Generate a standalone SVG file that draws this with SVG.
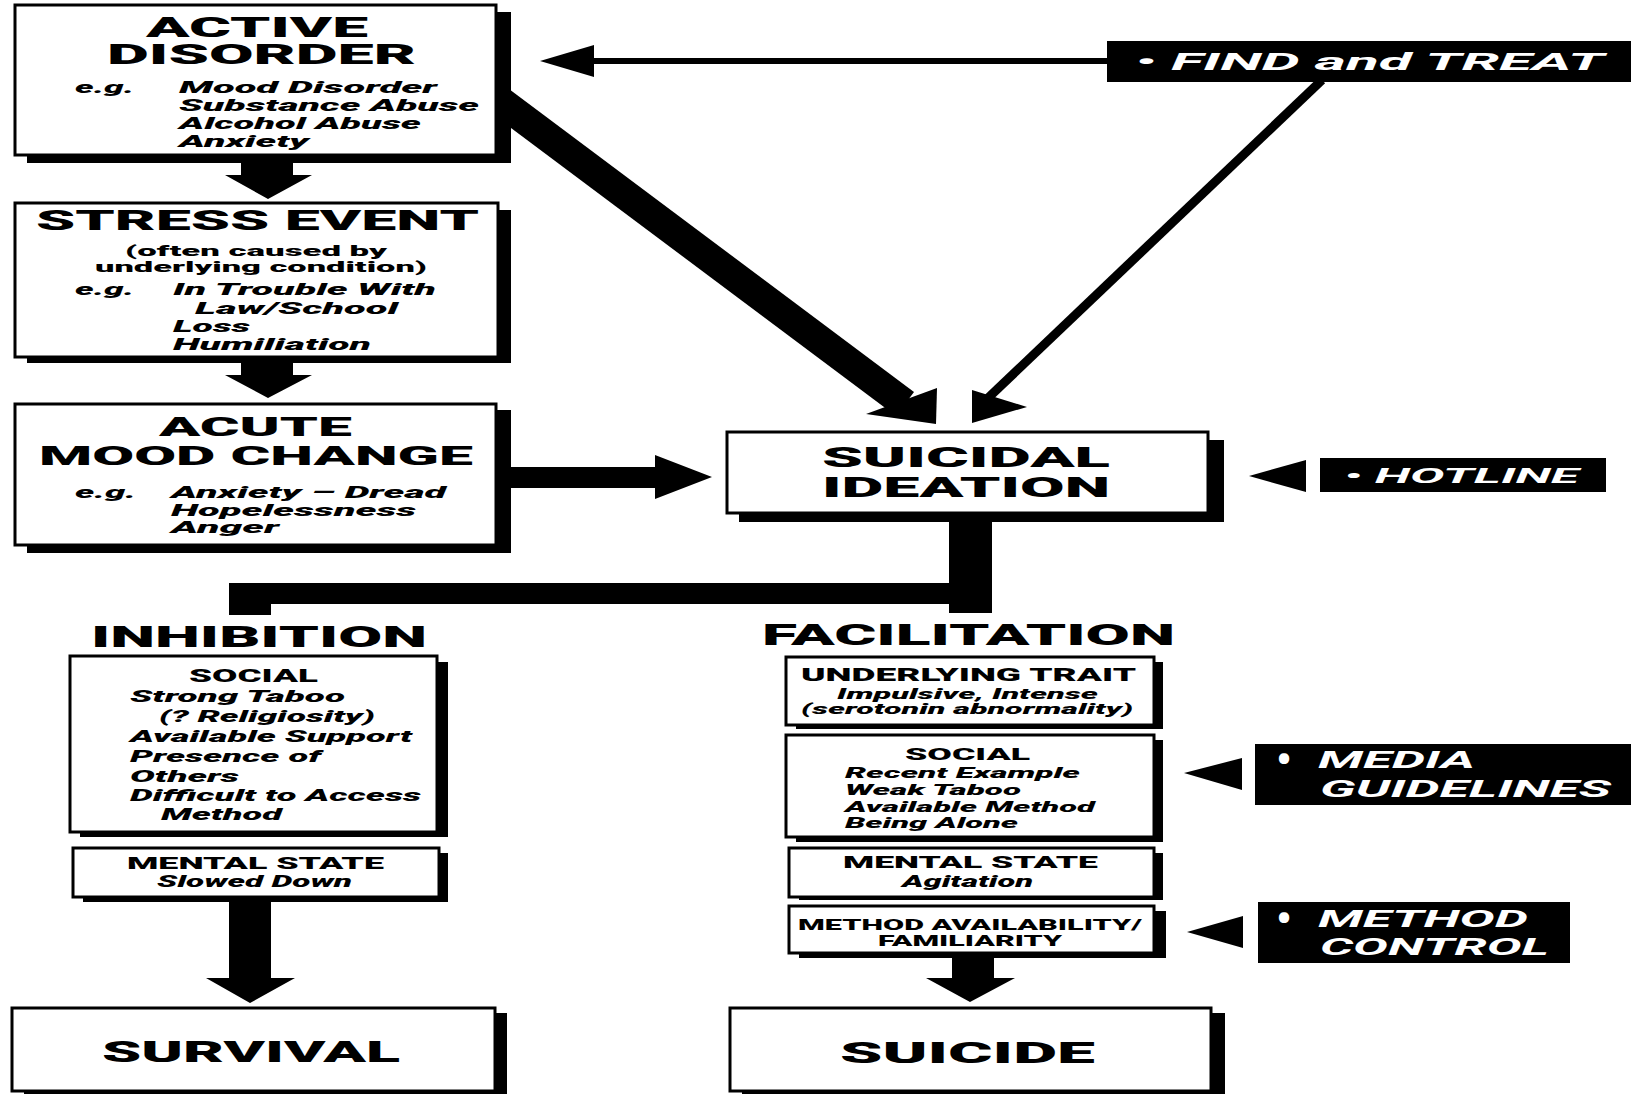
<svg xmlns="http://www.w3.org/2000/svg" width="1631" height="1094" viewBox="0 0 1631 1094">
<style>
.box{fill:#fff;stroke:#000;stroke-width:3}
.sh{fill:#000}
.blk{fill:#000}
text{font-family:Roboto,'Liberation Sans',Arial,sans-serif;font-weight:900;fill:#000}
.i{font-style:italic}
.w{fill:#fff;font-style:italic;font-weight:700}
.dot{fill:#fff;font-weight:700}
</style>
<rect width="1631" height="1094" fill="#fff"/>
<g id="connectors">
  <polygon class="blk" points="241,160 293,160 293,175 312,175 268,199 225,175 241,175"/>
  <polygon class="blk" points="241,360 293,360 293,375 312,375 268,398 225,375 241,375"/>
  <polygon class="blk" points="511,467 655,467 655,455 712,477 655,499 655,488 511,488"/>
  <line x1="500" y1="101" x2="905" y2="404" stroke="#000" stroke-width="30"/>
  <polygon class="blk" points="866,414 937,388 936,424"/>
  <rect class="blk" x="590" y="58" width="520" height="6"/>
  <polygon class="blk" points="540,61 594,45 594,77"/>
  <line x1="1322" y1="80" x2="988" y2="398" stroke="#000" stroke-width="9"/>
  <polygon class="blk" points="972,390 1027,407 972,423"/>
  <polygon class="blk" points="1249,476 1306,460 1306,492"/>
  <rect class="blk" x="949" y="513" width="43" height="100"/>
  <rect class="blk" x="229" y="583" width="763" height="21"/>
  <rect class="blk" x="229" y="583" width="42" height="32"/>
  <polygon class="blk" points="229,902 271,902 271,978 295,978 250,1003 206,978 229,978"/>
  <polygon class="blk" points="952,956 994,956 994,978 1015,978 970,1002 926,978 952,978"/>
  <polygon class="blk" points="1184,773 1242,758 1242,790"/>
  <polygon class="blk" points="1187,932 1243,916 1243,948"/>
</g>

<g id="active-disorder">
  <rect class="sh" x="27" y="12" width="484" height="151"/>
  <rect class="box" x="15" y="5" width="481" height="150"/>
  <text x="146" y="37" font-size="28" textLength="222" lengthAdjust="spacingAndGlyphs">ACTIVE</text>
  <text x="107" y="64" font-size="28" textLength="309" lengthAdjust="spacingAndGlyphs">DISORDER</text>
  <text class="i" x="75" y="93" font-size="17" textLength="59" lengthAdjust="spacingAndGlyphs">e.g.</text>
  <text class="i" x="179" y="93" font-size="17" textLength="258" lengthAdjust="spacingAndGlyphs">Mood Disorder</text>
  <text class="i" x="179" y="111" font-size="17" textLength="300" lengthAdjust="spacingAndGlyphs">Substance Abuse</text>
  <text class="i" x="179" y="129" font-size="17" textLength="242" lengthAdjust="spacingAndGlyphs">Alcohol Abuse</text>
  <text class="i" x="179" y="147" font-size="17" textLength="130" lengthAdjust="spacingAndGlyphs">Anxiety</text>
</g>

<g id="stress-event">
  <rect class="sh" x="27" y="210" width="484" height="153"/>
  <rect class="box" x="15" y="203" width="483" height="154"/>
  <text x="36" y="230" font-size="27" textLength="443" lengthAdjust="spacingAndGlyphs">STRESS EVENT</text>
  <text x="125" y="256" font-size="15.5" textLength="262" lengthAdjust="spacingAndGlyphs">(often caused by</text>
  <text x="95" y="272" font-size="15.5" textLength="332" lengthAdjust="spacingAndGlyphs">underlying condition)</text>
  <text class="i" x="75" y="295" font-size="17" textLength="59" lengthAdjust="spacingAndGlyphs">e.g.</text>
  <text class="i" x="173" y="295" font-size="17" textLength="263" lengthAdjust="spacingAndGlyphs">In Trouble With</text>
  <text class="i" x="195" y="314" font-size="17" textLength="203" lengthAdjust="spacingAndGlyphs">Law/School</text>
  <text class="i" x="173" y="332" font-size="17" textLength="77" lengthAdjust="spacingAndGlyphs">Loss</text>
  <text class="i" x="173" y="350" font-size="17" textLength="198" lengthAdjust="spacingAndGlyphs">Humiliation</text>
</g>

<g id="acute-mood-change">
  <rect class="sh" x="27" y="410" width="484" height="143"/>
  <rect class="box" x="15" y="404" width="481" height="141"/>
  <text x="159" y="436" font-size="25.5" textLength="193" lengthAdjust="spacingAndGlyphs">ACUTE</text>
  <text x="39" y="465" font-size="25.5" textLength="434" lengthAdjust="spacingAndGlyphs">MOOD CHANGE</text>
  <text class="i" x="75" y="498" font-size="17" textLength="61" lengthAdjust="spacingAndGlyphs">e.g.</text>
  <text class="i" x="171" y="498" font-size="17" textLength="275" lengthAdjust="spacingAndGlyphs">Anxiety – Dread</text>
  <text class="i" x="171" y="516" font-size="17" textLength="245" lengthAdjust="spacingAndGlyphs">Hopelessness</text>
  <text class="i" x="171" y="533" font-size="17" textLength="108" lengthAdjust="spacingAndGlyphs">Anger</text>
</g>

<g id="find-and-treat">
  <rect class="blk" x="1107" y="41" width="524" height="41"/>
  <text class="w" x="1135" y="70" font-size="24" textLength="469" lengthAdjust="spacingAndGlyphs">• FIND and TREAT</text>
</g>

<g id="suicidal-ideation">
  <rect class="sh" x="739" y="440" width="485" height="82"/>
  <rect class="box" x="727" y="432" width="481" height="81"/>
  <text x="822" y="467" font-size="28" textLength="288" lengthAdjust="spacingAndGlyphs">SUICIDAL</text>
  <text x="822" y="497" font-size="28" textLength="288" lengthAdjust="spacingAndGlyphs">IDEATION</text>
</g>

<g id="hotline">
  <rect class="blk" x="1320" y="458" width="286" height="34"/>
  <text class="w" x="1344" y="483" font-size="21" textLength="235" lengthAdjust="spacingAndGlyphs">• HOTLINE</text>
</g>

<g id="inhibition">
  <text x="91" y="647" font-size="30" textLength="336" lengthAdjust="spacingAndGlyphs">INHIBITION</text>
</g>

<g id="inhibition-social">
  <rect class="sh" x="80" y="662" width="368" height="175"/>
  <rect class="box" x="70" y="656" width="367" height="176"/>
  <text x="189" y="682" font-size="19" textLength="129" lengthAdjust="spacingAndGlyphs">SOCIAL</text>
  <text class="i" x="130" y="702" font-size="17" textLength="215" lengthAdjust="spacingAndGlyphs">Strong Taboo</text>
  <text class="i" x="159" y="722" font-size="17" textLength="216" lengthAdjust="spacingAndGlyphs">(? Religiosity)</text>
  <text class="i" x="130" y="742" font-size="17" textLength="282" lengthAdjust="spacingAndGlyphs">Available Support</text>
  <text class="i" x="130" y="762" font-size="17" textLength="191" lengthAdjust="spacingAndGlyphs">Presence of</text>
  <text class="i" x="130" y="782" font-size="17" textLength="109" lengthAdjust="spacingAndGlyphs">Others</text>
  <text class="i" x="130" y="801" font-size="17" textLength="291" lengthAdjust="spacingAndGlyphs">Difficult to Access</text>
  <text class="i" x="161" y="820" font-size="17" textLength="121" lengthAdjust="spacingAndGlyphs">Method</text>
</g>

<g id="inhibition-mental-state">
  <rect class="sh" x="83" y="853" width="365" height="49"/>
  <rect class="box" x="73" y="848" width="366" height="49"/>
  <text x="127" y="869" font-size="17" textLength="257" lengthAdjust="spacingAndGlyphs">MENTAL STATE</text>
  <text class="i" x="157" y="887" font-size="16" textLength="195" lengthAdjust="spacingAndGlyphs">Slowed Down</text>
</g>

<g id="survival">
  <rect class="sh" x="24" y="1013" width="483" height="81"/>
  <rect class="box" x="12" y="1008" width="483" height="83"/>
  <text x="102" y="1062" font-size="30" textLength="298" lengthAdjust="spacingAndGlyphs">SURVIVAL</text>
</g>

<g id="facilitation">
  <text x="762" y="645" font-size="30" textLength="413" lengthAdjust="spacingAndGlyphs">FACILITATION</text>
</g>

<g id="underlying-trait">
  <rect class="sh" x="796" y="662" width="367" height="67"/>
  <rect class="box" x="786" y="657" width="368" height="68"/>
  <text x="801" y="681" font-size="18" textLength="335" lengthAdjust="spacingAndGlyphs">UNDERLYING TRAIT</text>
  <text class="i" x="837" y="699" font-size="15" textLength="261" lengthAdjust="spacingAndGlyphs">Impulsive, Intense</text>
  <text class="i" x="801" y="714" font-size="15" textLength="332" lengthAdjust="spacingAndGlyphs">(serotonin abnormality)</text>
</g>

<g id="facilitation-social">
  <rect class="sh" x="796" y="740" width="367" height="102"/>
  <rect class="box" x="786" y="735" width="368" height="102"/>
  <text x="905" y="760" font-size="17" textLength="125" lengthAdjust="spacingAndGlyphs">SOCIAL</text>
  <text class="i" x="845" y="778" font-size="15" textLength="235" lengthAdjust="spacingAndGlyphs">Recent Example</text>
  <text class="i" x="845" y="795" font-size="15" textLength="176" lengthAdjust="spacingAndGlyphs">Weak Taboo</text>
  <text class="i" x="845" y="812" font-size="15" textLength="250" lengthAdjust="spacingAndGlyphs">Available Method</text>
  <text class="i" x="845" y="828" font-size="15" textLength="173" lengthAdjust="spacingAndGlyphs">Being Alone</text>
</g>

<g id="facilitation-mental-state">
  <rect class="sh" x="799" y="853" width="364" height="47"/>
  <rect class="box" x="789" y="848" width="365" height="49"/>
  <text x="843" y="868" font-size="17" textLength="255" lengthAdjust="spacingAndGlyphs">MENTAL STATE</text>
  <text class="i" x="902" y="887" font-size="16" textLength="131" lengthAdjust="spacingAndGlyphs">Agitation</text>
</g>

<g id="method-availability">
  <rect class="sh" x="799" y="911" width="367" height="47"/>
  <rect class="box" x="789" y="906" width="365" height="47"/>
  <text x="798" y="930" font-size="14.5" textLength="344" lengthAdjust="spacingAndGlyphs">METHOD AVAILABILITY/</text>
  <text x="878" y="946" font-size="14.5" textLength="184" lengthAdjust="spacingAndGlyphs">FAMILIARITY</text>
</g>

<g id="suicide">
  <rect class="sh" x="742" y="1013" width="483" height="81"/>
  <rect class="box" x="730" y="1008" width="481" height="83"/>
  <text x="840" y="1063" font-size="30" textLength="255" lengthAdjust="spacingAndGlyphs">SUICIDE</text>
</g>

<g id="media-guidelines">
  <rect class="blk" x="1255" y="744" width="376" height="61"/>
  <text class="dot" x="1276" y="775" font-size="44">•</text>
  <text class="w" x="1318" y="768" font-size="23" textLength="157" lengthAdjust="spacingAndGlyphs">MEDIA</text>
  <text class="w" x="1320" y="797" font-size="23" textLength="291" lengthAdjust="spacingAndGlyphs">GUIDELINES</text>
</g>

<g id="method-control">
  <rect class="blk" x="1258" y="902" width="312" height="61"/>
  <text class="dot" x="1276" y="934" font-size="44">•</text>
  <text class="w" x="1318" y="927" font-size="23" textLength="210" lengthAdjust="spacingAndGlyphs">METHOD</text>
  <text class="w" x="1320" y="955" font-size="23" textLength="229" lengthAdjust="spacingAndGlyphs">CONTROL</text>
</g>
</svg>
